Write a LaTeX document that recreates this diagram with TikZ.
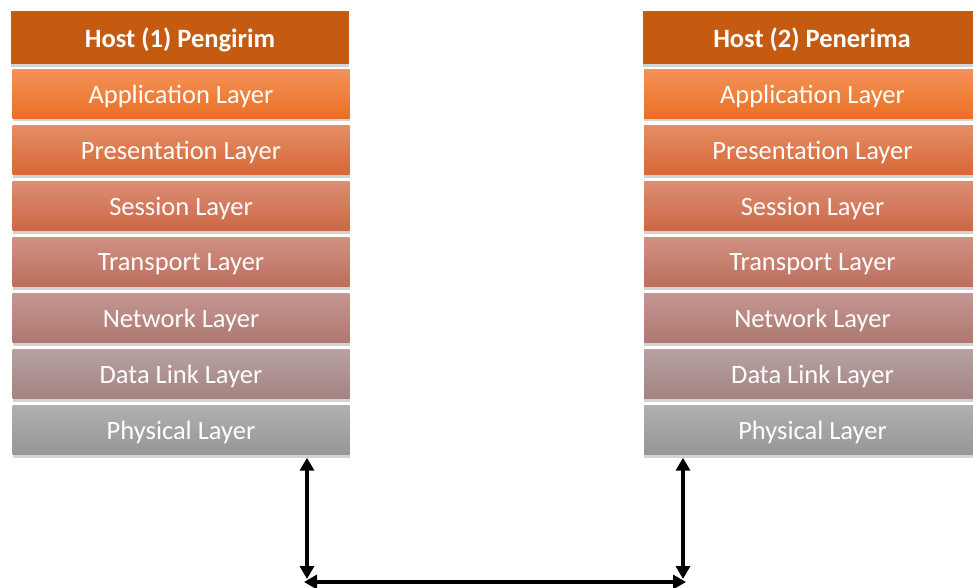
\documentclass[tikz,border=0pt]{standalone}
\usepackage{fontspec}
\setmainfont{Carlito}
\usepackage{tikz}
\usetikzlibrary{arrows.meta,shadows}
\definecolor{headcol}{RGB}{197,90,17}
\tikzset{
  biarrow/.style={{Triangle[length=13pt,width=14pt]}-{Triangle[length=13pt,width=14pt]},line width=3.5pt},
  head/.style={fill=headcol,minimum width=338pt,minimum height=53pt,inner sep=0pt,
    text=white,font=\fontsize{26.5}{30}\selectfont\bfseries,text depth=0pt,
    drop shadow={opacity=0.35,shadow xshift=0pt,shadow yshift=-3pt}},
  layer/.style 2 args={top color=#1,bottom color=#2,minimum width=337pt,minimum height=49pt,
    inner sep=0pt,text=white,font=\fontsize{26.5}{30}\selectfont,text depth=0pt,
    drop shadow={opacity=0.35,shadow xshift=0pt,shadow yshift=-3pt}}
}
\definecolor{apptop}{RGB}{244,146,88}\definecolor{appbot}{RGB}{234,112,34}
\definecolor{pretop}{RGB}{229,141,103}\definecolor{prebot}{RGB}{214,104,54}
\definecolor{sestop}{RGB}{219,141,117}\definecolor{sesbot}{RGB}{204,104,68}
\definecolor{tratop}{RGB}{208,145,131}\definecolor{trabot}{RGB}{189,110,92}
\definecolor{nettop}{RGB}{195,151,146}\definecolor{netbot}{RGB}{174,120,112}
\definecolor{dattop}{RGB}{183,162,162}\definecolor{datbot}{RGB}{163,131,128}
\definecolor{phytop}{RGB}{176,176,176}\definecolor{phybot}{RGB}{150,150,150}
\begin{document}
\begin{tikzpicture}[x=1pt,y=-1pt]
  \useasboundingbox (0,0) rectangle (973,588);
  % host 1
  \node[head] (h1) at (180,37.5) {Host (1) Pengirim};
  \node[layer={apptop}{appbot}] (app1) at (181,94) {Application Layer};
  \node[layer={pretop}{prebot}] (pre1) at (181,150) {Presentation Layer};
  \node[layer={sestop}{sesbot}] (ses1) at (181,206) {Session Layer};
  \node[layer={tratop}{trabot}] (tra1) at (181,262) {Transport Layer};
  \node[layer={nettop}{netbot}] (net1) at (181,318) {Network Layer};
  \node[layer={dattop}{datbot}] (dat1) at (181,374) {Data Link Layer};
  \node[layer={phytop}{phybot}] (phy1) at (181,430) {Physical Layer};

  % host 2
  \node[head] (h2) at (812,37.5) {Host (2) Penerima};
  \node[layer={apptop}{appbot}] (app2) at (812.5,94) {Application Layer};
  \node[layer={pretop}{prebot}] (pre2) at (812.5,150) {Presentation Layer};
  \node[layer={sestop}{sesbot}] (ses2) at (812.5,206) {Session Layer};
  \node[layer={tratop}{trabot}] (tra2) at (812.5,262) {Transport Layer};
  \node[layer={nettop}{netbot}] (net2) at (812.5,318) {Network Layer};
  \node[layer={dattop}{datbot}] (dat2) at (812.5,374) {Data Link Layer};
  \node[layer={phytop}{phybot}] (phy2) at (812.5,430) {Physical Layer};

  % medium
  \coordinate (d1) at (307,579);
  \coordinate (d2) at (683,579);
  \coordinate (m1) at (304,582);
  \coordinate (m2) at (686,582);
  \draw[biarrow,shorten <=3pt] (phy1.south -| d1) -- (d1);
  \draw[biarrow,shorten <=3pt] (phy2.south -| d2) -- (d2);
  \draw[biarrow] (m1) -- (m2);
\end{tikzpicture}
\end{document}
